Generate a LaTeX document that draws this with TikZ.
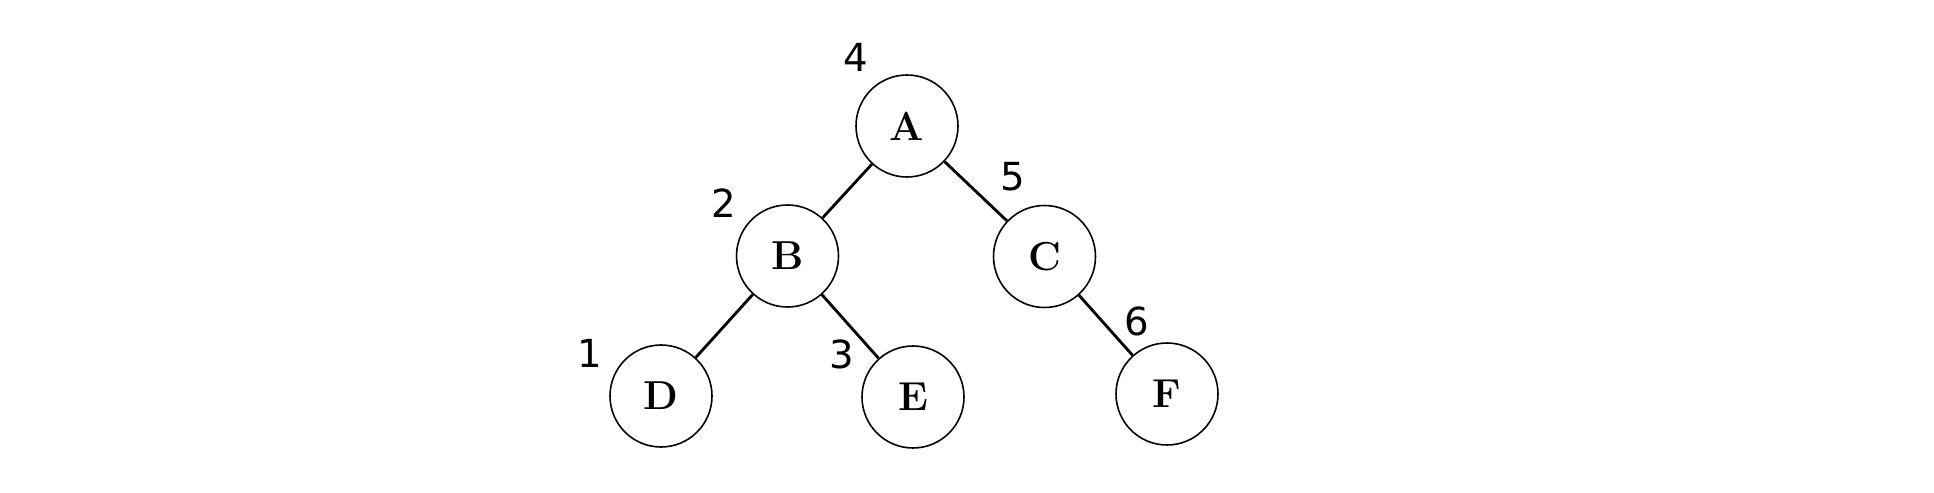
\documentclass[tikz,border=0pt]{standalone}
\usepackage{fontspec}
\newfontfamily\numfont{DejaVu Sans}
\begin{document}
\begin{tikzpicture}[
	vertex/.style={draw, circle, line width=0.9pt, minimum size=2.04cm, inner sep=0pt,
		font=\fontsize{23}{27}\selectfont\bfseries},
	order/.style={inner sep=0pt, font=\fontsize{22}{26}\selectfont\numfont},
	edge/.style={line width=1.6pt}
	]
	
	% Canvas
	\useasboundingbox (0,0) rectangle (38.68,9.84);
	
	% -----------------------------
	% Vertices
	% -----------------------------
	\node[vertex] (A) at (18.14,7.32) {A};
	\node[vertex] (B) at (15.75,4.72) {B};
	\node[vertex] (C) at (20.89,4.71) {C};
	\node[vertex] (D) at (13.22,1.92) {D};
	\node[vertex] (E) at (18.26,1.90) {E};
	\node[vertex] (F) at (23.34,1.96) {F};
	
	% -----------------------------
	% Edges
	% -----------------------------
	\draw[edge] (A) -- (B);
	\draw[edge] (A) -- (C);
	\draw[edge] (B) -- (D);
	\draw[edge] (B) -- (E);
	\draw[edge] (C) -- (F);
	
	% -----------------------------
	% Visit order
	% -----------------------------
	\node[order] (nA) at (17.12,8.70) {4};
	\node[order] (nB) at (14.48,5.78) {2};
	\node[order] (nD) at (11.80,2.78) {1};
	\node[order] (nE) at (16.84,2.76) {3};
	\node[order] (nC) at (20.26,6.30) {5};
	\node[order] (nF) at (22.74,3.42) {6};
	
\end{tikzpicture}
\end{document}
